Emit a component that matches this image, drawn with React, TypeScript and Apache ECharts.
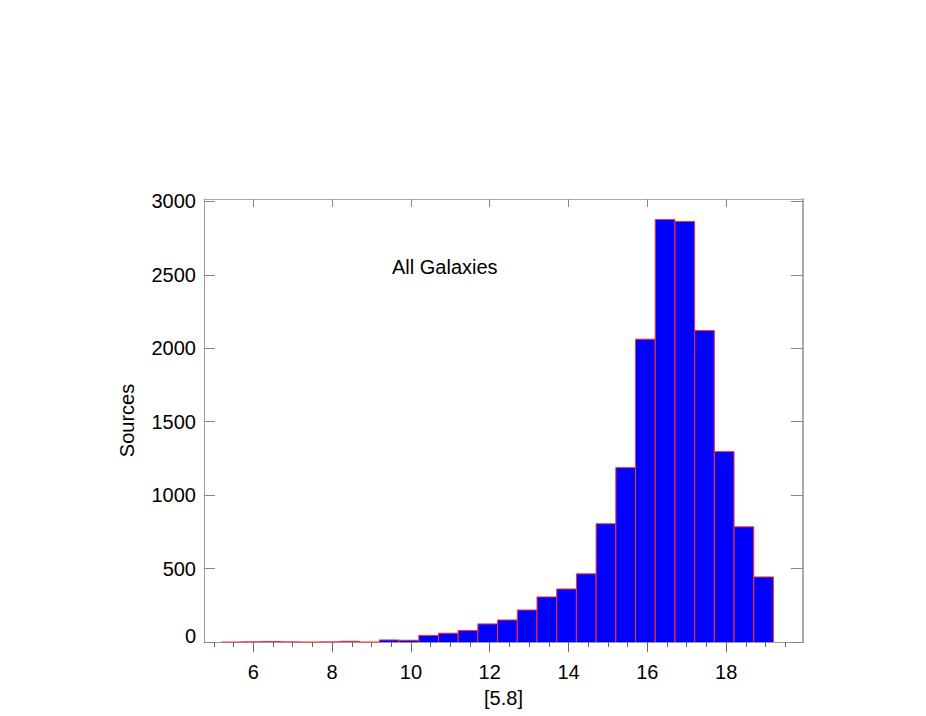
import React, { useEffect, useRef } from "react";
import * as echarts from "echarts";

// Histogram bin edges (magnitude [5.8]) and counts per bin
const binEdges = [
  5.2, 5.7, 6.2, 6.7, 7.2, 7.7, 8.2, 8.7, 9.2, 9.7, 10.2, 10.7, 11.2, 11.7,
  12.2, 12.7, 13.2, 13.7, 14.2, 14.7, 15.2, 15.7, 16.2, 16.7, 17.2, 17.7, 18.2,
  18.7, 19.2,
];
const counts = [
  0, 1, 4, 1, 0, 1, 5, 0, 14, 12, 45, 60, 79, 123, 150, 218, 307, 361, 464,
  805, 1187, 2062, 2876, 2863, 2121, 1296, 784, 443,
];

const xMajorTicks = [6, 8, 10, 12, 14, 16, 18];
const xMinorTicks = [
  5, 5.5, 6, 6.5, 7, 7.5, 8, 8.5, 9, 9.5, 10, 10.5, 11, 11.5, 12, 12.5, 13,
  13.5, 14, 14.5, 15, 15.5, 16, 16.5, 17, 17.5, 18, 18.5, 19, 19.5,
];
const yTicks = [0, 500, 1000, 1500, 2000, 2500, 3000];

const xTitle = "[5.8]";
const yTitle = "Sources";
const panelLabel = "All Galaxies";

const FONT = "'Liberation Sans', Arial, Helvetica, sans-serif";
const X_MIN = 4.75;
const X_MAX = 19.95;
const Y_MAX = 3016;

export default function App() {
  const ref = useRef<HTMLDivElement>(null);

  useEffect(() => {
    if (!ref.current) return;
    const chart = echarts.init(ref.current, null, { renderer: "svg" });

    const data = counts.map((v, i) => [binEdges[i], binEdges[i + 1], v]);

    const option: any = {
      animation: false,
      backgroundColor: "#ffffff",
      grid: { left: 204, right: 123, top: 199, bottom: 74 },
      xAxis: [
        {
          type: "value",
          position: "bottom",
          min: X_MIN,
          max: X_MAX,
          axisLine: { show: true, onZero: false, lineStyle: { color: "#999999", width: 1 } },
          axisTick: {
            show: true,
            inside: false,
            length: 10,
            customValues: xMajorTicks,
            lineStyle: { color: "#666666" },
          },
          axisLabel: {
            show: true,
            customValues: xMajorTicks,
            formatter: (v: number) => String(v),
            fontSize: 20,
            color: "#000000",
            fontFamily: FONT,
            margin: 20,
          },
          splitLine: { show: false },
          name: xTitle,
          nameLocation: "middle",
          nameGap: 46,
          nameTextStyle: { fontSize: 20, color: "#000000", fontFamily: FONT },
        },
        {
          type: "value",
          position: "bottom",
          min: X_MIN,
          max: X_MAX,
          axisLine: { show: false, onZero: false },
          axisTick: {
            show: true,
            inside: false,
            length: 5,
            customValues: xMinorTicks,
            lineStyle: { color: "#666666" },
          },
          axisLabel: { show: false },
          splitLine: { show: false },
        },
        {
          type: "value",
          position: "top",
          min: X_MIN,
          max: X_MAX,
          axisLine: { show: true, onZero: false, lineStyle: { color: "#aaaaaa", width: 1 } },
          axisTick: {
            show: true,
            inside: true,
            length: 8,
            customValues: xMajorTicks,
            lineStyle: { color: "#888888" },
          },
          axisLabel: { show: false },
          splitLine: { show: false },
        },
      ],
      yAxis: [
        {
          type: "value",
          position: "left",
          min: 0,
          max: Y_MAX,
          axisLine: { show: true, onZero: false, lineStyle: { color: "#999999", width: 1 } },
          axisTick: {
            show: true,
            inside: true,
            length: 11,
            customValues: yTicks,
            lineStyle: { color: "#888888" },
          },
          axisLabel: {
            show: true,
            customValues: yTicks,
            formatter: (v: number) => (v === 0 ? "{z|0}" : String(v)),
            fontSize: 20,
            color: "#000000",
            fontFamily: FONT,
            margin: 8,
            rich: {
              z: {
                fontSize: 20,
                color: "#000000",
                fontFamily: FONT,
                padding: [0, 0, 12, 0],
              },
            },
          },
          splitLine: { show: false },
          name: yTitle,
          nameLocation: "middle",
          nameGap: 67,
          nameRotate: 90,
          nameTextStyle: { fontSize: 20, color: "#000000", fontFamily: FONT },
        },
        {
          type: "value",
          position: "right",
          min: 0,
          max: Y_MAX,
          axisLine: { show: true, onZero: false, lineStyle: { color: "#aaaaaa", width: 2 } },
          axisTick: {
            show: true,
            inside: true,
            length: 12,
            customValues: yTicks,
            lineStyle: { color: "#888888" },
          },
          axisLabel: { show: false },
          splitLine: { show: false },
        },
      ],
      graphic: [
        {
          type: "text",
          left: 392,
          top: 257,
          style: {
            text: panelLabel,
            fontSize: 20,
            fill: "#000000",
            fontFamily: FONT,
          },
        },
      ],
      series: [
        {
          type: "custom",
          xAxisIndex: 0,
          yAxisIndex: 0,
          encode: { x: [0, 1], y: 2 },
          data,
          renderItem: (params: any, api: any) => {
            const x0 = api.value(0);
            const x1 = api.value(1);
            const v = api.value(2);
            const pTop = api.coord([x0, v]);
            const pBot = api.coord([x1, 0]);
            return {
              type: "group",
              children: [
                {
                  type: "rect",
                  shape: {
                    x: pTop[0],
                    y: pTop[1],
                    width: pBot[0] - pTop[0],
                    height: pBot[1] - pTop[1],
                  },
                  style: { fill: "#0000ff" },
                },
                {
                  type: "polyline",
                  shape: {
                    points: [
                      [pTop[0], pBot[1]],
                      [pTop[0], pTop[1]],
                      [pBot[0], pTop[1]],
                      [pBot[0], pBot[1]],
                    ],
                  },
                  style: { stroke: "#ff3030", fill: null, lineWidth: 1 },
                },
              ],
            };
          },
        },
      ],
    };

    chart.setOption(option);
    return () => chart.dispose();
  }, []);

  return (
    <div
      ref={ref}
      style={{ position: "absolute", left: 0, top: 0, width: 926, height: 716 }}
    />
  );
}
